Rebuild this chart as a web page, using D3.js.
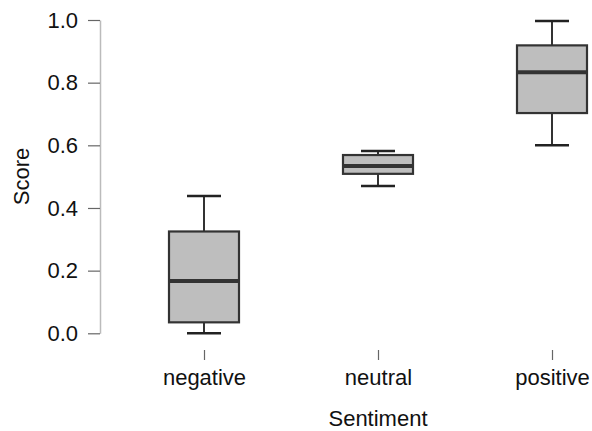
<!DOCTYPE html>
<html>
<head>
<meta charset="utf-8">
<script src="https://cdn.jsdelivr.net/npm/d3@7"></script>
<style>
  body { margin: 0; background: #fff; }
  text { font-family: "Liberation Sans", Arial, sans-serif; fill: #111; }
</style>
</head>
<body>
<div id="chart"></div>
<script>
// Data
const categories = ["negative", "neutral", "positive"];
const whiskerLow = [0.0, 0.47, 0.6];
const q1 = [0.035, 0.509, 0.703];
const median = [0.167, 0.534, 0.833];
const q3 = [0.325, 0.569, 0.919];
const whiskerHigh = [0.438, 0.582, 0.997];
const yTicks = [0.0, 0.2, 0.4, 0.6, 0.8, 1.0];

const boxes = categories.map((c, i) => ({
  name: c,
  lo: whiskerLow[i],
  q1: q1[i],
  med: median[i],
  q3: q3[i],
  hi: whiskerHigh[i],
}));

const width = 592;
const height = 431;
const fontSize = "22px";

const svg = d3
  .select("#chart")
  .append("svg")
  .attr("width", width)
  .attr("height", height);

const xScale = d3
  .scalePoint()
  .domain(categories)
  .range([117, 639])
  .padding(0.5);

const yScale = d3.scaleLinear().domain([0, 1]).range([333.3, 20]);

const boxW = 70;
const capW = 34;

// Y axis
const yAxis = svg
  .append("g")
  .attr("transform", "translate(100, 0)")
  .call(d3.axisLeft(yScale).tickValues(yTicks).tickFormat(d3.format(".1f")).tickSize(12).tickSizeOuter(0));
yAxis.select(".domain").attr("stroke", "#bbb").attr("stroke-width", 1.5);
yAxis.selectAll(".tick line").attr("stroke", "#666").attr("stroke-width", 1.2);
yAxis.selectAll(".tick text").attr("x", -22).style("font-size", fontSize).attr("fill", "#111");

// X ticks and labels (no axis line)
const xAxis = svg
  .append("g")
  .attr("transform", "translate(0, 350)")
  .call(d3.axisBottom(xScale).tickSize(10).tickSizeOuter(0));
xAxis.select(".domain").remove();
xAxis.selectAll(".tick line").attr("stroke", "#666").attr("stroke-width", 1.2);
xAxis.selectAll(".tick text").attr("y", 28).attr("dy", "0.3em").style("font-size", fontSize).attr("fill", "#111");

// Boxes
const g = svg.selectAll(".box").data(boxes).enter().append("g").attr("class", "box");

g.append("line")
  .attr("x1", (d) => xScale(d.name))
  .attr("x2", (d) => xScale(d.name))
  .attr("y1", (d) => yScale(d.lo))
  .attr("y2", (d) => yScale(d.hi))
  .attr("stroke", "#333")
  .attr("stroke-width", 2);

g.selectAll(".cap")
  .data((d) => [d, d].map((v, k) => ({ name: v.name, val: k ? v.hi : v.lo })))
  .enter()
  .append("line")
  .attr("x1", (d) => xScale(d.name) - capW / 2)
  .attr("x2", (d) => xScale(d.name) + capW / 2)
  .attr("y1", (d) => yScale(d.val))
  .attr("y2", (d) => yScale(d.val))
  .attr("stroke", "#222")
  .attr("stroke-width", 2.4);

g.append("rect")
  .attr("x", (d) => xScale(d.name) - boxW / 2)
  .attr("y", (d) => yScale(d.q3))
  .attr("width", boxW)
  .attr("height", (d) => yScale(d.q1) - yScale(d.q3))
  .attr("fill", "#bebebe")
  .attr("stroke", "#333")
  .attr("stroke-width", 2.2);

g.append("line")
  .attr("x1", (d) => xScale(d.name) - boxW / 2)
  .attr("x2", (d) => xScale(d.name) + boxW / 2)
  .attr("y1", (d) => yScale(d.med))
  .attr("y2", (d) => yScale(d.med))
  .attr("stroke", "#333")
  .attr("stroke-width", 4);

// Axis titles
svg
  .append("text")
  .attr("x", 378)
  .attr("y", 426)
  .attr("text-anchor", "middle")
  .style("font-size", fontSize)
  .text("Sentiment");

svg
  .append("text")
  .attr("transform", "translate(29, 176.5) rotate(-90)")
  .attr("text-anchor", "middle")
  .style("font-size", fontSize)
  .text("Score");
</script>
</body>
</html>
